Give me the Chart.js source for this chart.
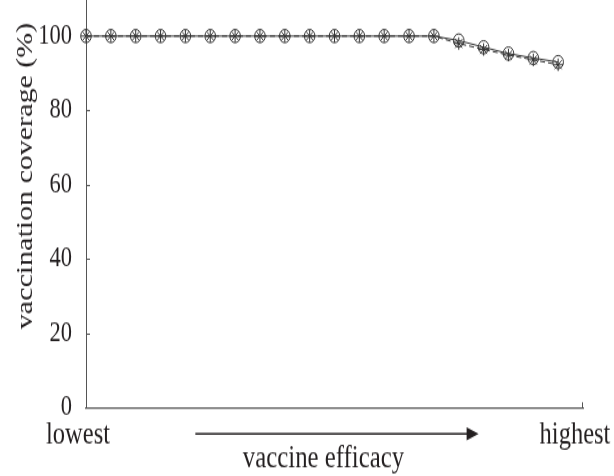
<!DOCTYPE html>
<html><head><meta charset="utf-8">
<script src="https://cdn.jsdelivr.net/npm/chart.js@4.4.1/dist/chart.umd.min.js"></script>
<style>
html{margin:0;padding:0;background:#fff;overflow:hidden}
body{margin:0;padding:0;background:#fff;width:614px;height:476px}
#wrap{width:614px;height:381px;transform:scale(1,1.2493);transform-origin:0 0}
</style></head><body>
<div id="wrap"><canvas id="c" width="614" height="381"></canvas></div>
<script>
// ---- data ----
const efficacyLevels = [0,1,2,3,4,5,6,7,8,9,10,11,12,13,14,15,16,17,18,19];
const coverageCircle = [100,100,100,100,100,100,100,100,100,100,100,100,100,100,100,98.8,97.0,95.3,94.1,93.0];
const coverageStar   = [100,100,100,100,100,100,100,100,100,100,100,100,100,100,100,98.0,96.4,94.9,93.6,92.3];
const yTickValues = [0,20,40,60,80,100];
const xEndValues = [0,20];
const xEndLabels = ['lowest','highest'];
const xTitleText = 'vaccine efficacy';
const yTitleText = 'vaccination coverage (%)';

const INK = '#231f20';
const AXIS = '#555';
const SERIF = '"Liberation Serif", "DejaVu Serif", serif';

const toPoints = vals => vals.map((v,i)=>({x: efficacyLevels[i], y: v}));

const decor = {
  id: 'decor',
  afterDraw(chart){
    const {ctx, chartArea: a, scales: {x, y}} = chart;
    ctx.save();
    ctx.strokeStyle = AXIS; ctx.lineWidth = 1;
    // inward y ticks
    yTickValues.slice(1).forEach(v => {
      const py = Math.round(y.getPixelForValue(v)) + 0.5;
      ctx.beginPath(); ctx.moveTo(a.left, py); ctx.lineTo(a.left + 4, py); ctx.stroke();
    });
    // tick at right end of x axis
    const px = Math.round(x.getPixelForValue(xEndValues[1])) - 0.5;
    ctx.beginPath(); ctx.moveTo(px, a.bottom); ctx.lineTo(px, a.bottom - 4.5); ctx.stroke();
    // arrow under x axis
    const ax0 = x.getPixelForValue(4.4), ax1 = x.getPixelForValue(15.8), ay = a.bottom + 20.8;
    ctx.strokeStyle = INK; ctx.fillStyle = INK; ctx.lineWidth = 1.6;
    ctx.beginPath(); ctx.moveTo(ax0, ay); ctx.lineTo(ax1 - 10, ay); ctx.stroke();
    ctx.beginPath(); ctx.moveTo(ax1, ay); ctx.lineTo(ax1 - 12, ay - 5.3); ctx.lineTo(ax1 - 12, ay + 5.3); ctx.closePath(); ctx.fill();
    // axis titles
    ctx.fillStyle = INK;
    ctx.textAlign = 'center'; ctx.textBaseline = 'alphabetic';
    ctx.font = '24.8px ' + SERIF;
    ctx.fillText(xTitleText, (a.left + a.right) / 2 - 11, a.bottom + 48);
    ctx.translate(32, 140.8); ctx.rotate(-Math.PI / 2);
    ctx.font = '24px ' + SERIF;
    ctx.fillText(yTitleText, 0, 0);
    ctx.restore();
  }
};

new Chart(document.getElementById('c'), {
  type: 'line',
  data: {
    datasets: [
      {
        label: 'circles',
        data: toPoints(coverageCircle),
        borderColor: '#333', borderWidth: 1,
        pointStyle: 'circle', pointRadius: 5.3, pointBorderWidth: 1,
        pointBorderColor: '#333', pointBackgroundColor: 'rgba(0,0,0,0)',
        clip: false, tension: 0
      },
      {
        label: 'stars',
        data: toPoints(coverageStar),
        borderColor: '#333', borderWidth: 1, borderDash: [5, 3],
        pointStyle: 'star', pointRadius: 5, pointBorderWidth: 1,
        pointBorderColor: '#333', pointBackgroundColor: 'rgba(0,0,0,0)',
        clip: false, tension: 0
      }
    ]
  },
  options: {
    responsive: false,
    animation: false,
    devicePixelRatio: 1,
    layout: { autoPadding: false, padding: { left: 0, right: 31, top: 0, bottom: 0 } },
    plugins: { legend: { display: false }, tooltip: { enabled: false } },
    scales: {
      x: {
        type: 'linear', min: xEndValues[0], max: xEndValues[1],
        grid: { display: false, drawTicks: false },
        border: { display: true, color: AXIS, width: 1.3 },
        afterBuildTicks: s => { s.ticks = xEndValues.map(v => ({ value: v })); },
        ticks: {
          callback: (v) => xEndLabels[xEndValues.indexOf(v)],
          font: { family: SERIF, size: 24.5 }, color: INK,
          padding: 7, labelOffset: -8, maxRotation: 0, autoSkip: false
        },
        afterFit: s => { s.height = 381 - 326.4; s.paddingLeft = 0; s.paddingRight = 0; }
      },
      y: {
        type: 'linear', min: 0, max: 109.7,
        grid: { display: false, drawTicks: false },
        border: { display: true, color: AXIS, width: 1 },
        afterBuildTicks: s => { s.ticks = yTickValues.map(v => ({ value: v })); },
        ticks: {
          font: { family: SERIF, size: 22.5 }, color: INK, padding: 14
        },
        afterFit: s => { s.width = 86; s.paddingTop = 0; s.paddingBottom = 0; }
      }
    }
  },
  plugins: [decor]
});
</script>
</body></html>
